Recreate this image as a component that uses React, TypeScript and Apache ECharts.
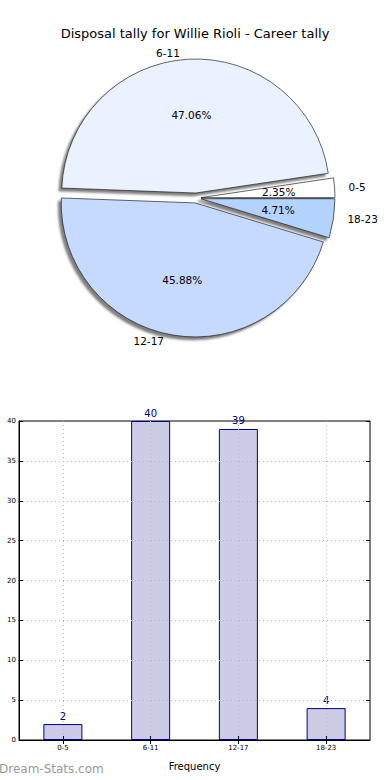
import React, { useEffect, useRef } from "react";
import * as echarts from "echarts";

const title = "Disposal tally for Willie Rioli - Career tally";
const categories = ["0-5", "6-11", "12-17", "18-23"];
const values = [2, 40, 39, 4];
const pieColors = ["#ffffff", "#eaf1ff", "#c6d9ff", "#b5d3ff"];
const xAxisName = "Frequency";
const watermark = "Dream-Stats.com";

const FONT = "DejaVu Sans";

export default function App() {
  const ref = useRef<HTMLDivElement>(null);
  useEffect(() => {
    document.body.style.margin = "0";
    const chart = echarts.init(ref.current!, undefined, { renderer: "svg" });
    const pieData = categories.map((c, i) => ({
      name: c,
      value: values[i],
      selected: true,
      itemStyle: { color: pieColors[i] },
    }));
    const pctData = categories.map((c, i) => ({
      name: c,
      value: values[i],
      selected: true,
    }));
    chart.setOption({
      animation: false,
      title: {
        text: title,
        left: "center",
        top: 22,
        textStyle: { fontFamily: FONT, fontSize: 13, fontWeight: "normal", color: "#000" },
      },
      graphic: [
        {
          type: "text",
          left: -1,
          top: 763,
          style: { text: watermark, fontFamily: FONT, fontSize: 12, fill: "#999" },
        },
      ],
      grid: {
        left: 19,
        right: 20,
        top: 421,
        bottom: 40,
        show: true,
        borderColor: "#000",
        borderWidth: 1,
        backgroundColor: "transparent",
      },
      xAxis: [
        {
          type: "category",
          data: categories,
          z: 3,
          name: xAxisName,
          nameLocation: "middle",
          nameGap: 21,
          nameTextStyle: { fontFamily: FONT, fontSize: 10, color: "#000" },
          axisLine: { lineStyle: { color: "#000" } },
          axisTick: { show: true, inside: true, alignWithLabel: true, length: 4, lineStyle: { color: "#000" } },
          axisLabel: { fontFamily: FONT, fontSize: 7, color: "#000", margin: 4 },
          splitLine: {
            show: true,
            alignWithLabel: true,
            lineStyle: { color: "#b8b8b8", type: [1, 3], width: 1 },
          },
        },
        {
          type: "category",
          data: categories,
          position: "top",
          z: 3,
          axisLine: { show: false },
          axisTick: { show: true, inside: true, alignWithLabel: true, length: 4, lineStyle: { color: "#000" } },
          axisLabel: { show: false },
          splitLine: { show: false },
        },
      ],
      yAxis: [
        {
          type: "value",
          min: 0,
          max: 40,
          interval: 5,
          z: 3,
          axisLine: { show: true, lineStyle: { color: "#000" } },
          axisTick: { show: true, inside: true, length: 4, lineStyle: { color: "#000" } },
          axisLabel: { fontFamily: FONT, fontSize: 7, color: "#000", margin: 3 },
          splitLine: {
            show: true,
            showMinLine: false,
            showMaxLine: false,
            lineStyle: { color: "#b8b8b8", type: [1, 3], width: 1 },
          },
        },
        {
          type: "value",
          min: 0,
          max: 40,
          interval: 5,
          position: "right",
          z: 3,
          axisLine: { show: false },
          axisTick: { show: true, inside: true, length: 4, lineStyle: { color: "#000" } },
          axisLabel: { show: false },
          splitLine: { show: false },
        },
      ],
      series: [
        {
          type: "pie",
          center: [196, 198],
          radius: 134,
          startAngle: 0,
          clockwise: false,
          selectedMode: "multiple",
          selectedOffset: 5,
          avoidLabelOverlap: false,
          silent: true,
          emphasis: { disabled: true },
          itemStyle: {
            borderColor: "#000",
            borderWidth: 0.6,
            shadowColor: "rgba(0,0,0,0.5)",
            shadowBlur: 2,
            shadowOffsetX: -3,
            shadowOffsetY: 3,
          },
          label: {
            show: true,
            position: "outside",
            formatter: "{b}",
            fontFamily: FONT,
            fontSize: 10.5,
            color: "#000",
            distanceToLabelLine: 2,
          },
          labelLine: { show: false, length: 6, length2: 6 },
          data: pieData,
        },
        {
          type: "pie",
          center: [196, 198],
          radius: 150,
          startAngle: 0,
          clockwise: false,
          selectedMode: "multiple",
          selectedOffset: 5,
          avoidLabelOverlap: false,
          silent: true,
          emphasis: { disabled: true },
          itemStyle: { color: "transparent", borderWidth: 0 },
          label: {
            show: true,
            position: "inside",
            formatter: "{d}%",
            fontFamily: FONT,
            fontSize: 10.5,
            color: "#000",
          },
          labelLine: { show: false },
          data: pctData,
        },
        {
          type: "bar",
          xAxisIndex: 0,
          yAxisIndex: 0,
          data: values,
          barWidth: 39,
          itemStyle: { color: "#ccccE6", borderColor: "#000088", borderWidth: 1 },
          label: {
            show: true,
            position: "top",
            distance: 3,
            fontFamily: FONT,
            fontSize: 10,
            color: "#000080",
          },
        },
      ],
    });
    return () => chart.dispose();
  }, []);
  return <div ref={ref} style={{ width: 390, height: 780 }} />;
}
